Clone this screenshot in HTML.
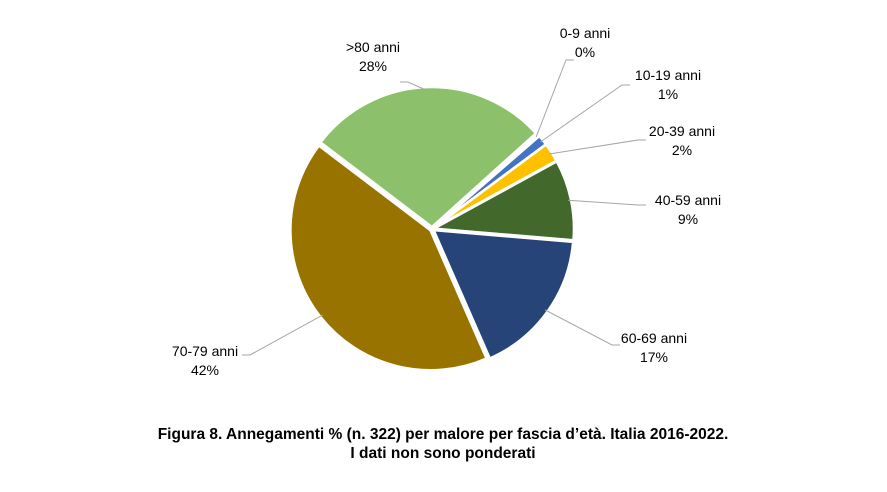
<!DOCTYPE html>
<html><head><meta charset="utf-8"><style>
body{margin:0;background:#fff;width:887px;height:487px;overflow:hidden;font-family:"Liberation Sans",sans-serif}
</style></head><body>
<svg width="887" height="487" viewBox="0 0 887 487" xmlns="http://www.w3.org/2000/svg">
<g id="slices"></g><g id="leaders"></g><g id="labels" font-size="14" fill="#000" text-anchor="middle"></g>
<text x="443" y="439" font-size="15.5" font-weight="bold" text-anchor="middle">Figura 8. Annegamenti % (n. 322) per malore per fascia d’età. Italia 2016-2022.</text>
<text x="443" y="458" font-size="15.5" font-weight="bold" text-anchor="middle">I dati non sono ponderati</text>
</svg>
<script>
const categories=["0-9 anni","10-19 anni","20-39 anni","40-59 anni","60-69 anni","70-79 anni",">80 anni"];
const values=[0.3,1.2,2.2,9.3,17.1,41.9,28.0];
const valueLabels=["0%","1%","2%","9%","17%","42%","28%"];
const colors=["#A5A5A5","#4472C4","#FFC000","#43682B","#264478","#997300","#8DC06A"];
const labelPos=[[585,38],[668,80],[682,136],[688,205],[654,343],[205,356],[373,52]];
const leaderEnd=[[566,60],[622,85],[638,140],[638,205],[612,345],[250,355],[408,82]];
const cx=432,cy=229,R=140,start=48;
const ns="http://www.w3.org/2000/svg";
const total=values.reduce((a,b)=>a+b,0);
function pt(a,r,ox,oy){const t=(a-90)*Math.PI/180;return [ox+r*Math.cos(t),oy+r*Math.sin(t)];}
let acc=start;
const sg=document.getElementById('slices'),lg=document.getElementById('leaders'),tg=document.getElementById('labels');
values.forEach((v,i)=>{
 const sweep=v/total*360,a0=acc,a1=acc+sweep,mid=acc+sweep/2;acc=a1;
 const off=pt(mid,2,0,0),ox=cx+off[0],oy=cy+off[1];
 const p0=pt(a0,R,ox,oy),p1=pt(a1,R,ox,oy);
 const path=document.createElementNS(ns,'path');
 path.setAttribute('d',`M${ox},${oy}L${p0[0]},${p0[1]}A${R},${R} 0 ${sweep>180?1:0} 1 ${p1[0]},${p1[1]}Z`);
 path.setAttribute('fill',colors[i]);path.setAttribute('stroke','#fff');path.setAttribute('stroke-width','2.5');
 
 
 sg.appendChild(path);
 const e=pt(mid,R-3,ox,oy);
 const ln=document.createElementNS(ns,'polyline');
 const le=leaderEnd[i];
 ln.setAttribute('points',`${e[0]},${e[1]} ${le[0]},${le[1]} ${le[0]+(le[0]>cx?8:-8)},${le[1]}`);
 ln.setAttribute('fill','none');ln.setAttribute('stroke','#A6A6A6');ln.setAttribute('stroke-width','1');
 
 
 lg.appendChild(ln);
 const t=document.createElementNS(ns,'text');
 t.setAttribute('x',labelPos[i][0]);t.setAttribute('y',labelPos[i][1]);
 
 
 t.innerHTML=`<tspan x="${labelPos[i][0]}">${categories[i].replace('>','&gt;')}</tspan><tspan x="${labelPos[i][0]}" dy="19">${valueLabels[i]}</tspan>`;
 tg.appendChild(t);
});
</script>
</body></html>
